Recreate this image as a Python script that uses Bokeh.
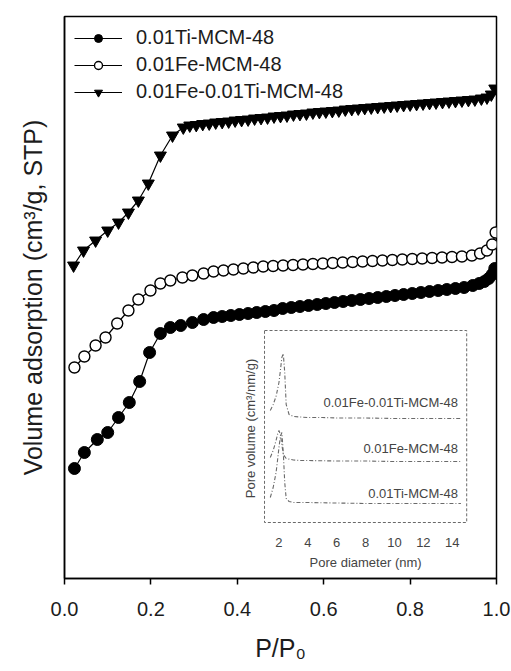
from math import pi
from bokeh.plotting import figure
from bokeh.models import Range1d, Legend, LegendItem, FixedTicker
from bokeh.core.properties import value
from bokeh.embed import file_html
from bokeh.resources import INLINE

FONT = "Liberation Sans"

# ---------------- main isotherm data (relative pressure, adsorbed volume in a.u.) ----------------
ti_x = [0.023, 0.046, 0.076, 0.100, 0.125, 0.150, 0.174, 0.197, 0.222, 0.245, 0.269, 0.296, 0.322, 0.345,
        0.365, 0.385, 0.405, 0.425, 0.445, 0.465, 0.485, 0.505, 0.525, 0.545, 0.565, 0.585, 0.605, 0.625,
        0.645, 0.665, 0.685, 0.705, 0.725, 0.745, 0.765, 0.785, 0.805, 0.825, 0.845, 0.865, 0.885, 0.905,
        0.925, 0.945, 0.960, 0.972, 0.982, 0.990, 0.996]
ti_y = [110, 126, 139, 146, 161, 176, 197, 226, 245, 251, 253, 256, 259, 261,
        262, 263, 264, 265, 266, 267, 268, 270, 271, 272, 273, 274, 275, 276,
        277, 278, 279, 280, 281, 282, 283, 284, 285, 286, 287, 288, 289, 290,
        291, 293, 295, 297, 300, 304, 310]

fe_x = [0.023, 0.046, 0.072, 0.095, 0.122, 0.148, 0.171, 0.199, 0.222, 0.245, 0.273, 0.296, 0.322, 0.345,
        0.368, 0.391, 0.414, 0.437, 0.460, 0.483, 0.506, 0.529, 0.552, 0.575, 0.598, 0.621, 0.644, 0.667,
        0.690, 0.713, 0.736, 0.759, 0.782, 0.805, 0.828, 0.851, 0.874, 0.897, 0.920, 0.943, 0.962, 0.978,
        0.990, 0.998]
fe_y = [211, 222, 233, 241, 255, 268, 279, 288, 295, 298, 301, 303, 305, 307,
        308, 309, 310, 311, 312, 312.5, 313, 313.5, 314, 314.5, 315, 315.5, 316, 316.5,
        317, 317.5, 318, 318.5, 319, 319.5, 320, 320.5, 321, 321.5, 322, 323, 325, 328,
        334, 346]

feti_x = [0.021, 0.044, 0.072, 0.100, 0.125, 0.148, 0.171, 0.194, 0.222, 0.250, 0.275,
          0.290, 0.305, 0.320, 0.335, 0.350, 0.365, 0.380, 0.395, 0.410, 0.425, 0.440, 0.455,
          0.470, 0.485, 0.500, 0.515, 0.530, 0.545, 0.560, 0.575, 0.590, 0.605, 0.620, 0.635,
          0.650, 0.665, 0.680, 0.695, 0.710, 0.725, 0.740, 0.755, 0.770, 0.785, 0.800, 0.815,
          0.830, 0.845, 0.860, 0.875, 0.890, 0.905, 0.920, 0.935, 0.950, 0.965, 0.978, 0.988, 0.996]
feti_y = [313, 328, 338, 348, 356, 366, 378, 395, 423, 443, 451,
          453, 453.5, 454.5, 455, 456, 456.5, 457, 458, 458.5, 459, 460, 460.5,
          461, 462, 462.5, 463, 464, 464.5, 465, 466, 466.5, 467, 467.5, 468,
          469, 469.5, 470, 470.5, 471, 471.5, 472, 472.5, 473, 473.5, 474, 474.5,
          475, 475.5, 476, 476.5, 477, 477.5, 478, 478.5, 479, 480, 481, 484, 490]

series_names = ["0.01Ti-MCM-48", "0.01Fe-MCM-48", "0.01Fe-0.01Ti-MCM-48"]
x_ticks = [0.0, 0.2, 0.4, 0.6, 0.8, 1.0]

# ---------------- inset: pore size distribution ----------------
psd_feti_x = [1.4, 1.6, 1.8, 2.0, 2.1, 2.2, 2.3, 2.4, 2.5, 2.7, 3.0, 3.5, 4.0, 5.0, 6.0, 8.0, 10.0, 12.0, 14.0, 14.6]
psd_feti_y = [112, 118, 126, 140, 152, 165, 169, 150, 118, 108, 106, 105.5, 105, 105, 104.5, 104.5, 104, 104, 104, 104]
psd_fe_x = [1.4, 1.6, 1.8, 1.9, 2.0, 2.1, 2.2, 2.3, 2.5, 3.0, 3.5, 4.0, 6.0, 8.0, 10.0, 12.0, 14.0, 14.6]
psd_fe_y = [65, 72, 82, 88, 92, 88, 78, 68, 64, 62.5, 62, 62, 61.5, 61.5, 61, 61, 61, 61]
psd_ti_x = [1.4, 1.6, 1.8, 1.9, 2.0, 2.1, 2.2, 2.3, 2.4, 2.5, 2.7, 3.0, 4.0, 6.0, 8.0, 10.0, 12.0, 14.0, 14.6]
psd_ti_y = [25, 35, 50, 62, 75, 86, 90, 70, 40, 24, 21, 20, 20, 19.5, 19, 19, 19, 19, 19]
inset_ticks = [2, 4, 6, 8, 10, 12, 14]
inset_labels = ["0.01Fe-0.01Ti-MCM-48", "0.01Fe-MCM-48", "0.01Ti-MCM-48"]
inset_label_y = [120, 74, 29]

TXT = "#1c1c1c"

p = figure(frame_width=432, frame_height=562, output_backend="svg", toolbar_location=None,
           x_range=Range1d(0, 1.0), y_range=Range1d(0, 562),
           min_border_left=64, min_border_right=15, min_border_top=16, min_border_bottom=93,
           background_fill_color="white", border_fill_color="white")
p.grid.visible = False
p.outline_line_color = "black"
p.outline_line_width = 1.5

# x axis
p.xaxis.ticker = FixedTicker(ticks=x_ticks)
p.xaxis.major_label_overrides = {t: f"{t:.1f}" for t in x_ticks}
p.xaxis.major_tick_in = 0
p.xaxis.major_tick_out = 6
p.xaxis.minor_tick_in = 0
p.xaxis.minor_tick_out = 0
p.xaxis.axis_line_width = 1.5
p.xaxis.major_tick_line_width = 1.5
p.xaxis.major_label_text_font = FONT
p.xaxis.major_label_text_font_size = "20px"
p.xaxis.major_label_text_color = TXT
p.xaxis.major_label_standoff = 17
p.xaxis.axis_label = "P/P\u2080"
p.xaxis.axis_label_text_font = FONT
p.xaxis.axis_label_text_font_size = "25px"
p.xaxis.axis_label_text_font_style = "normal"
p.xaxis.axis_label_text_color = TXT
p.xaxis.axis_label_standoff = 15

# y axis (no ticks)
p.yaxis.ticker = FixedTicker(ticks=[])
p.yaxis.major_tick_out = 0
p.yaxis.major_label_standoff = 0
p.yaxis.minor_tick_in = 0
p.yaxis.minor_tick_out = 0
p.yaxis.axis_line_width = 1.5
p.yaxis.axis_label = "Volume adsorption (cm\u00b3/g, STP)"
p.yaxis.axis_label_text_font = FONT
p.yaxis.axis_label_text_font_size = "25px"
p.yaxis.axis_label_text_font_style = "normal"
p.yaxis.axis_label_text_color = TXT
p.yaxis.axis_label_standoff = 18

# series
l1 = p.line(ti_x, ti_y, line_color="black", line_width=1.2)
s1 = p.scatter(ti_x, ti_y, marker="circle", size=12, fill_color="black", line_color="black")
l2 = p.line(fe_x, fe_y, line_color="black", line_width=1.2)
s2 = p.scatter(fe_x, fe_y, marker="circle", size=11, fill_color="white", line_color="black", line_width=1.4)
l3 = p.line(feti_x, feti_y, line_color="black", line_width=1.2)
s3 = p.scatter(feti_x, feti_y, marker="inverted_triangle", size=12, fill_color="black", line_color="black")

legend = Legend(items=[LegendItem(label=series_names[0], renderers=[l1, s1]),
                       LegendItem(label=series_names[1], renderers=[l2, s2]),
                       LegendItem(label=series_names[2], renderers=[l3, s3])],
                location="top_left")
legend.glyph_width = 48
legend.glyph_height = 20
legend.label_height = 20
legend.spacing = 4
legend.padding = 0
legend.margin = 10
legend.label_standoff = 14
legend.label_text_font = FONT
legend.label_text_font_size = "20px"
legend.label_text_color = TXT
legend.border_line_color = None
legend.background_fill_alpha = 0
p.add_layout(legend)

# inset, drawn in its own coordinates mapped into a region of the main plot
sub = p.subplot(x_source=Range1d(1, 15), y_source=Range1d(0, 192),
                x_target=Range1d(0.463, 0.931), y_target=Range1d(56, 248))
GRAY = "#6a6a6a"
sub.quad(left=[1], right=[15], bottom=[0], top=[192], fill_color=None,
         line_color=GRAY, line_width=1, line_dash="3 2")
for xs, ys in [(psd_feti_x, psd_feti_y), (psd_fe_x, psd_fe_y), (psd_ti_x, psd_ti_y)]:
    sub.line(xs, ys, line_color=GRAY, line_width=1.1, line_dash="4 2 1 2")
sub.text(x=[14.4] * 3, y=inset_label_y, text=inset_labels, text_font=value(FONT),
         text_font_size="13px", text_align="right", text_baseline="middle", text_color="#444444")
sub.text(x=inset_ticks, y=[-20] * len(inset_ticks), text=[str(t) for t in inset_ticks],
         text_font=value(FONT), text_font_size="13px", text_align="center",
         text_baseline="middle", text_color="#444444")
sub.text(x=[8.0], y=[-40], text=["Pore diameter (nm)"], text_font=value(FONT),
         text_font_size="13px", text_align="center", text_baseline="middle", text_color="#444444")
sub.text(x=[0.05], y=[94], text=["Pore volume (cm\u00b3/nm/g)"], text_font=value(FONT),
         text_font_size="13px", text_align="center", text_baseline="middle",
         text_color="#444444", angle=pi / 2)

open("out.html", "w").write(file_html(p, INLINE))
